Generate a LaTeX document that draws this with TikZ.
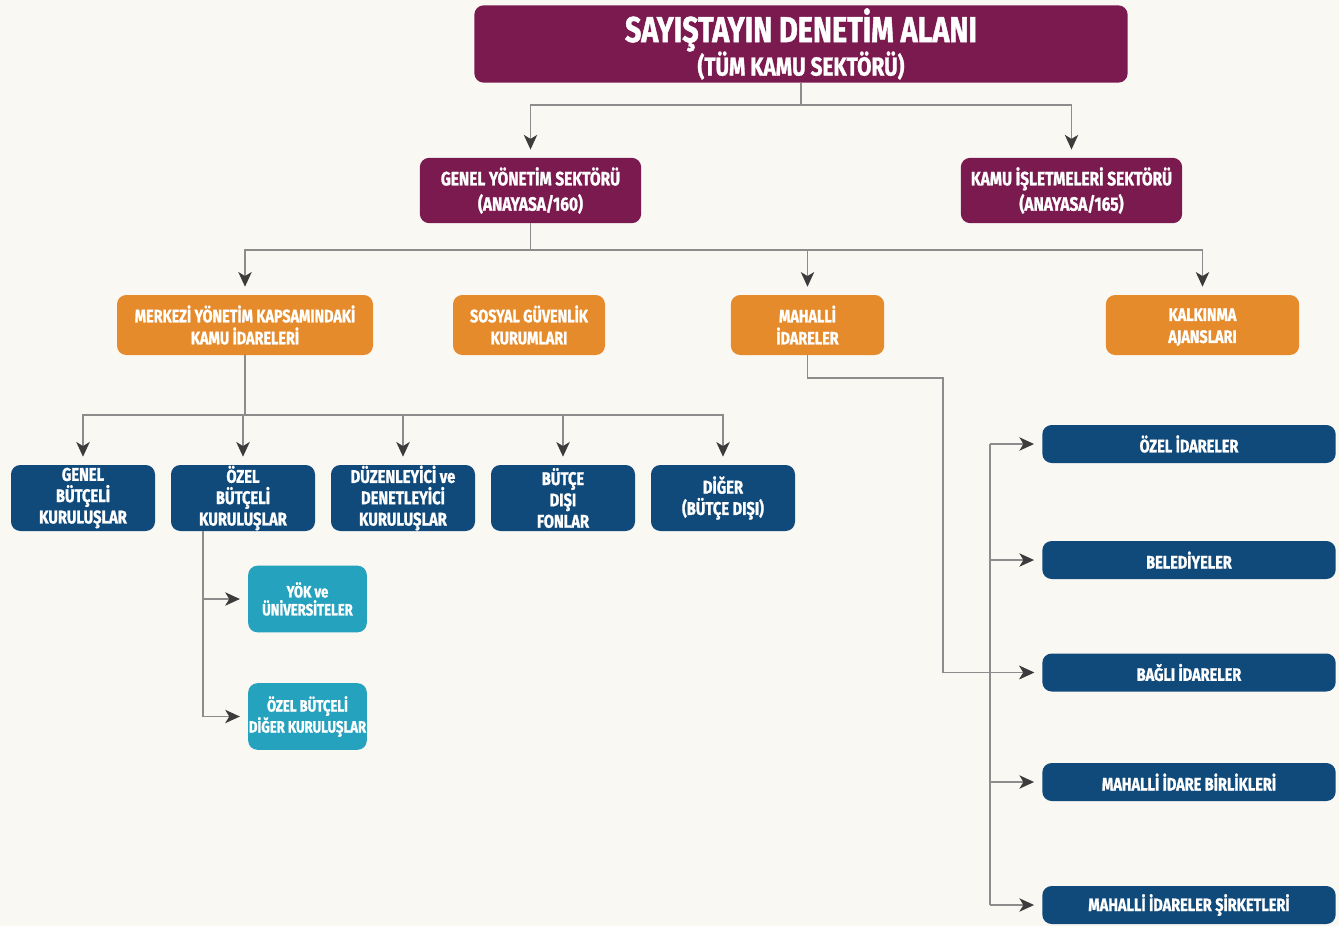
\documentclass[tikz,border=0pt]{standalone}
\usepackage{fontspec}
\setmainfont{Fira Sans}[FakeStretch=0.8,BoldFeatures={FakeBold=1.2}]
\usetikzlibrary{arrows.meta,positioning}
\definecolor{bgc}{HTML}{FAF8F3}
\definecolor{mag}{HTML}{7A1A4F}
\definecolor{org}{HTML}{E58B2B}
\definecolor{blu}{HTML}{0F4A7B}
\definecolor{tea}{HTML}{25A2BD}
\definecolor{lin}{HTML}{8C8C8C}
\definecolor{tip}{HTML}{3C3C3C}
\begin{document}
\begin{tikzpicture}[x=0.75pt,y=-0.75pt,
  box/.style={rounded corners=7pt,text=white,font=\bfseries,align=center,inner sep=0pt},
  magbox/.style={box,fill=mag},
  orgbox/.style={box,fill=org,minimum height=45pt,font=\bfseries\fontsize{13.5}{16.5}\selectfont},
  blubox/.style={box,fill=blu,minimum width=108pt,minimum height=49.5pt,font=\bfseries\fontsize{13.8}{16}\selectfont},
  teabox/.style={box,fill=tea,minimum width=89pt,minimum height=50pt,font=\bfseries\fontsize{12.3}{13.5}\selectfont},
  rbox/.style={box,fill=blu,minimum width=220pt,minimum height=28.5pt,font=\bfseries\fontsize{13.6}{15}\selectfont},
  conn/.style={draw=lin,line width=1.3pt},
  arr/.style={conn,-{Stealth[length=11pt,width=10pt,inset=3pt,color=tip]},shorten >=6pt}
]
\fill[bgc] (0,0) rectangle (1339,926);
\useasboundingbox (0,0) rectangle (1339,926);

\node[magbox,minimum width=490pt,minimum height=58pt] (title) at (801,44)
  {{\fontsize{27}{30}\selectfont SAYIŞTAYIN DENETİM ALANI}\\[-1pt]{\fontsize{19.5}{22}\selectfont (TÜM KAMU SEKTÖRÜ)}};
\node[magbox,minimum width=166pt,minimum height=49pt,font=\bfseries\fontsize{14.5}{19}\selectfont] (gys) at (530.5,190.5)
  {GENEL YÖNETİM SEKTÖRÜ\\(ANAYASA/160)};
\node[magbox,minimum width=166pt,minimum height=49pt,font=\bfseries\fontsize{14.5}{19}\selectfont] (kis) at (1071.5,190.5)
  {KAMU İŞLETMELERİ SEKTÖRÜ\\(ANAYASA/165)};

\node[orgbox,minimum width=192pt] (mer) at (245,325) {MERKEZİ YÖNETİM KAPSAMINDAKİ\\KAMU İDARELERİ};
\node[orgbox,minimum width=114pt] (sos) at (529,325) {SOSYAL GÜVENLİK\\KURUMLARI};
\node[orgbox,minimum width=115pt] (mah) at (807.5,325) {MAHALLİ\\İDARELER};
\node[orgbox,minimum width=145pt] (kal) at (1202.5,325) {\vphantom{İ}KALKINMA\\AJANSLARI};

\node[blubox] (gbk) at (83,498) {GENEL\\BÜTÇELİ\\KURULUŞLAR};
\node[blubox] (obk) at (243,498) {ÖZEL\\BÜTÇELİ\\KURULUŞLAR};
\node[blubox] (ddk) at (403,498) {DÜZENLEYİCİ ve\\DENETLEYİCİ\\KURULUŞLAR};
\node[blubox] (bdf) at (563,498) {BÜTÇE\\DIŞI\\FONLAR};
\node[blubox] (dig) at (723,498) {DİĞER\\(BÜTÇE DIŞI)};

\node[teabox] (yok) at (307.5,599) {YÖK ve\\ÜNİVERSİTELER};
\node[teabox] (obd) at (307.5,716.5) {ÖZEL BÜTÇELİ\\DİĞER KURULUŞLAR};

\node[rbox] (ozi) at (1189,444) {ÖZEL İDARELER};
\node[rbox] (bel) at (1189,560) {BELEDİYELER};
\node[rbox] (bag) at (1189,672.5) {BAĞLI İDARELER};
\node[rbox] (mib) at (1189,782) {MAHALLİ İDARE BİRLİKLERİ};
\node[rbox] (sir) at (1189,905) {MAHALLİ İDARELER ŞİRKETLERİ};

% level 1
\coordinate (b1) at (title.south |- 0,105);
\draw[conn] (title.south) -- (b1);
\draw[arr] (b1) -| (gys.north);
\draw[arr] (b1) -| (kis.north);

% level 2
\coordinate (b2) at (gys.south |- 0,250);
\draw[conn] (gys.south) -- (b2);
\draw[arr] (b2) -| (mer.north);
\draw[arr] (b2) -| (mah.north);
\draw[arr] (b2) -| (kal.north);

% level 3
\coordinate (b3) at (mer.south |- 0,415);
\draw[conn] (mer.south) -- (b3);
\foreach \n in {gbk,obk,ddk,bdf,dig}{\draw[arr] (b3) -| (\n.north);}

% ozel butceli branch
\coordinate (c1) at (obk.south -| 203,0);
\draw[arr] (c1) |- (yok.west);
\draw[arr] (c1) |- (obd.west);

% mahalli branch
\coordinate (m1) at (943,378);
\draw[arr] (mah.south) |- (m1) |- (bag.west);

% right bracket
\coordinate (rt) at (ozi.west -| 990,0);
\coordinate (rb) at (sir.west -| 990,0);
\draw[conn] (rt) -- (rb);
\foreach \n in {ozi,bel,bag,mib,sir}{\draw[arr] (\n.west -| 990,0) -- (\n.west);}
\end{tikzpicture}
\end{document}
